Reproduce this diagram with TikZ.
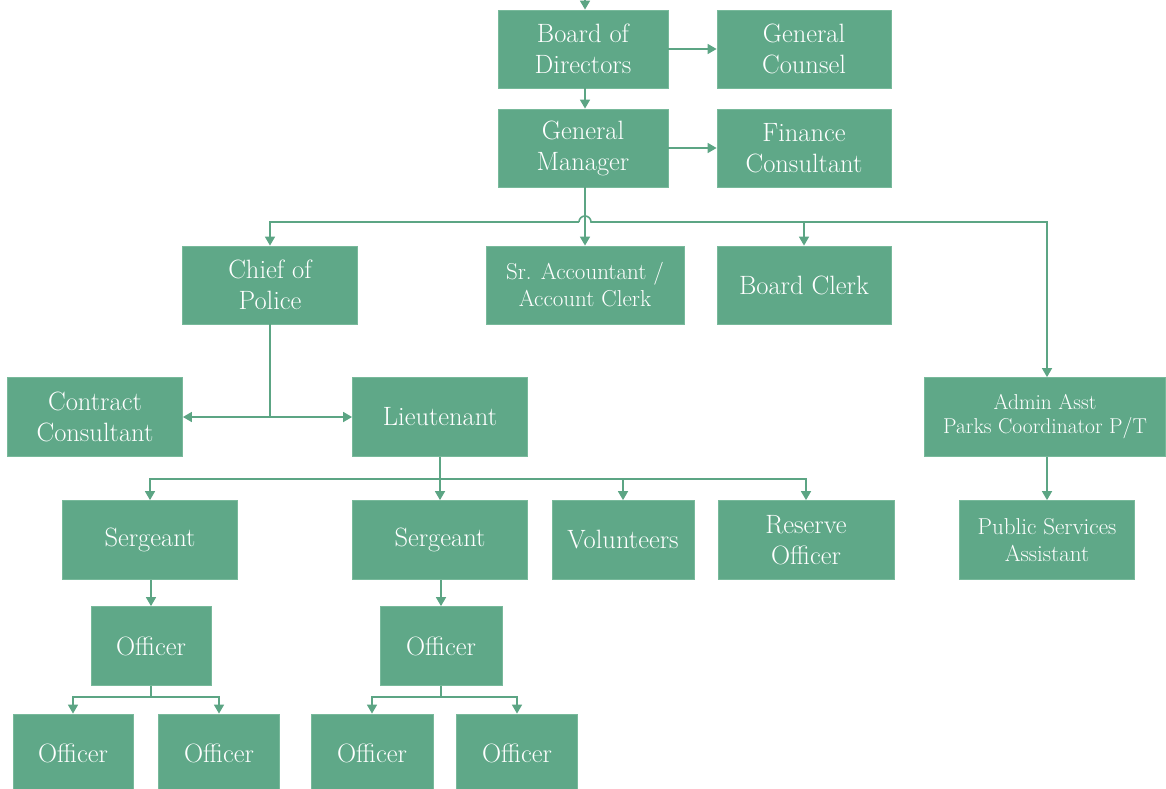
\documentclass[tikz,border=0pt]{standalone}
\usetikzlibrary{arrows.meta}
\definecolor{boxgreen}{RGB}{95,168,136}
\definecolor{boxedge}{RGB}{120,185,155}
\definecolor{linegreen}{RGB}{92,165,132}
\begin{document}
\begin{tikzpicture}[x=1pt,y=-1pt,
  box/.style={fill=boxgreen, draw=boxedge, line width=0.8pt, text=white, align=center,
    inner sep=0pt, minimum height=78pt, font=\fontsize{26.5}{31}\selectfont},
  smalltext/.style={font=\fontsize{23}{27}\selectfont},
  conn/.style={draw=linegreen, line width=1.6pt},
  arr/.style={conn, -{Triangle[width=10pt,length=9pt]}},
  darr/.style={conn, {Triangle[width=10pt,length=9pt]}-{Triangle[width=10pt,length=9pt]}}]
\useasboundingbox (0,0) rectangle (1166,788);
\begin{scope}
\clip (0,0) rectangle (1166,788);
% nodes
\node[box, minimum width=170pt] (board) at (583,49) {Board of\\Directors};
\node[box, minimum width=174pt] (counsel) at (804,49) {General\\Counsel};
\node[box, minimum width=170pt] (gm) at (583,148) {General\\Manager};
\node[box, minimum width=174pt] (finance) at (804,148) {Finance\\Consultant};
\node[box, minimum width=175pt] (chief) at (270,285) {Chief of\\Police};
\node[box, minimum width=198pt, smalltext] (sracct) at (585,285) {Sr. Accountant /\\Account Clerk};
\node[box, minimum width=174pt] (clerk) at (804,285) {Board Clerk};
\node[box, minimum width=241pt, minimum height=79pt, font=\fontsize{21.5}{24}\selectfont] (admin) at (1045,417) {Admin Asst\\Parks Coordinator P/T};
\node[box, minimum width=175pt, minimum height=79pt] (contract) at (95,417) {Contract\\Consultant};
\node[box, minimum width=175pt, minimum height=79pt] (lt) at (440,417) {Lieutenant};
\node[box, minimum width=175pt, minimum height=79pt] (sgt1) at (150,540) {Sergeant};
\node[box, minimum width=175pt, minimum height=79pt] (sgt2) at (440,540) {Sergeant};
\node[box, minimum width=142pt, minimum height=79pt] (vol) at (623,540) {Volunteers};
\node[box, minimum width=176pt, minimum height=79pt] (reserve) at (806,540) {Reserve\\Officer};
\node[box, minimum width=175pt, minimum height=79pt, smalltext] (psa) at (1047,540) {Public Services\\Assistant};
\node[box, minimum width=120pt, minimum height=79pt] (off1) at (151,646) {Officer};
\node[box, minimum width=122pt, minimum height=79pt] (off2) at (441,646) {Officer};
\node[box, minimum width=120pt, minimum height=78pt] (o11) at (73,753) {Officer};
\node[box, minimum width=121pt, minimum height=78pt] (o12) at (219,753) {Officer};
\node[box, minimum width=122pt, minimum height=78pt] (o21) at (372,753) {Officer};
\node[box, minimum width=121pt, minimum height=78pt] (o22) at (517,753) {Officer};
% helper coordinates
\coordinate (top) at (585,-30);
\coordinate (busL) at (270,222);
\coordinate (hopL) at (579,222);
\coordinate (busR) at (1047,222);
\coordinate (chiefj) at (270,417);
\coordinate (ltj) at (440,479);
\coordinate (off1j) at (151,697);
\coordinate (off2j) at (441,697);
% connectors
\draw[arr] (top) -- (board.north -| top);
\draw[arr] (board.east) -- (counsel.west);
\draw[arr] (board.south -| top) -- (gm.north -| top);
\draw[arr] (gm.east) -- (finance.west);
\draw[arr] (gm.south -| top) -- (sracct.north -| top);
\draw[arr] (hopL) arc[start angle=180, end angle=0, radius=6pt] -- (busR) -- (admin.north -| busR);
\draw[arr] (hopL) -- (busL) -- (chief.north);
\draw[arr] (clerk.north |- busR) -- (clerk.north);
\draw[conn] (chief.south) -- (chiefj);
\draw[darr] (contract.east) -- (lt.west);
\draw[conn] (lt.south) -- (ltj);
\draw[arr] (ltj) -| (sgt1.north);
\draw[arr] (ltj) -- (sgt2.north);
\draw[arr] (ltj) -| (vol.north);
\draw[arr] (ltj) -| (reserve.north);
\draw[arr] (admin.south -| psa.north) -- (psa.north);
\draw[arr] (sgt1.south -| off1) -- (off1.north);
\draw[arr] (sgt2.south -| off2) -- (off2.north);
\draw[conn] (off1.south) -- (off1j);
\draw[arr] (off1j) -| (o11.north);
\draw[arr] (off1j) -| (o12.north);
\draw[conn] (off2.south) -- (off2j);
\draw[arr] (off2j) -| (o21.north);
\draw[arr] (off2j) -| (o22.north);
\end{scope}
\end{tikzpicture}
\end{document}
